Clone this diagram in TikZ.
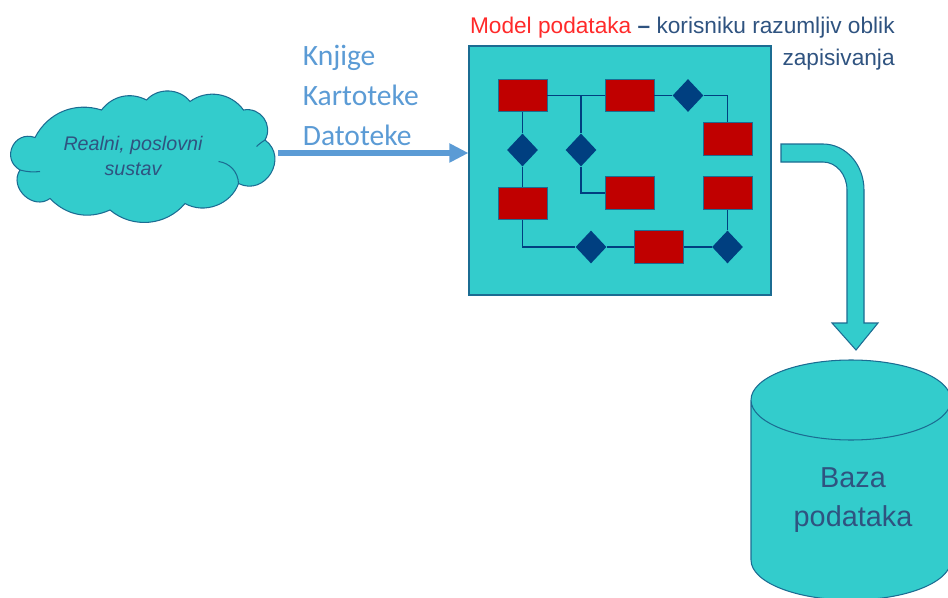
\documentclass[tikz,border=0pt]{standalone}
\usepackage{fontspec}
\setmainfont{Liberation Sans}
\newfontfamily\labelfont{Carlito}
\usetikzlibrary{shapes.geometric}
\usetikzlibrary{arrows.meta}

\definecolor{tealfill}{HTML}{33CCCC}
\definecolor{outline}{HTML}{1B6C92}
\definecolor{boxred}{HTML}{C00000}
\definecolor{navy}{HTML}{003F80}
\definecolor{linkblue}{HTML}{5B9BD5}
\definecolor{titleblue}{HTML}{2F5380}
\definecolor{titlered}{HTML}{FF2A2A}

\tikzset{
  entity/.style={draw=outline, line width=0.4pt, fill=boxred, rectangle, minimum width=0.98cm, minimum height=0.65cm, inner sep=0pt},
  relation/.style={fill=navy, diamond, minimum width=0.62cm, minimum height=0.66cm, inner sep=0pt},
  link/.style={draw=navy, line width=0.8pt},
  tealshape/.style={draw=outline, line width=0.6pt, fill=tealfill},
  source/.style={text=linkblue, font=\labelfont\fontsize{16.8}{18}\selectfont, anchor=west, inner sep=0pt}
}

\begin{document}
\begin{tikzpicture}
  \useasboundingbox (0,0) rectangle (18.96,11.94);
  \clip (0,0) rectangle (18.96,11.94);

  % cloud
  \draw[tealshape] (0.70,9.19) to[bend right=85, looseness=1.6] (0.40,8.54)
    to[bend right=80, looseness=1.3] (1.00,7.97)
    to[bend right=35] (2.20,7.74)
    to[bend right=45] (3.70,7.87)
    to[bend right=50] (4.77,8.27)
    to[bend right=85, looseness=1.5] (5.30,9.14)
    to[bend right=65, looseness=1.2] (4.87,9.74)
    to[bend right=45] (3.80,9.91)
    to[bend right=50] (2.93,9.94)
    to[bend right=40] (2.03,9.74)
    to[bend right=40] cycle;
  \draw[outline, line width=0.6pt] (0.80,8.51) to[bend left=10] (0.40,8.54);
  \draw[outline, line width=0.6pt] (4.37,8.71) to[bend left=40] (4.77,8.27);
  \draw[outline, line width=0.6pt] (5.13,9.01) to[bend left=5] (5.30,9.14);
  \node[align=center, text=titleblue, font=\itshape\fontsize{11.2}{14.7}\selectfont, inner sep=0pt] (cloudtext) at (2.66,8.82) {Realni, poslovni\\sustav};

  \node[source] (knjige) at (6.05,10.79) {Knjige};
  \node[source] (kartoteke) at (6.05,10.03) {Kartoteke};
  \node[source] (datoteke) at (6.05,9.24) {Datoteke};

  \node[tealshape, rectangle, minimum width=6.04cm, minimum height=4.98cm, inner sep=0pt] (panel) at (12.40,8.53) {};

  \coordinate (arrowstart) at (5.56,8.88);
  \draw[linkblue, line width=1.2mm, -{Triangle[length=3.8mm, width=3.6mm]}] (arrowstart) -- (panel.west |- arrowstart);

  \node[align=right, anchor=north east, inner sep=0pt, text=titleblue, font=\fontsize{12.9}{18}\selectfont] (title) at (17.9,11.60) {\textcolor{titlered}{Model podataka} \textbf{--} korisniku razumljiv oblik\\zapisivanja};

  \node[entity] (order) at (10.45,10.03) {};
  \node[entity] (customer) at (12.59,10.03) {};
  \node[entity] (invoice) at (14.55,9.16) {};
  \node[entity] (product) at (12.59,8.08) {};
  \node[entity] (supplier) at (14.55,8.08) {};
  \node[entity] (payment) at (10.45,7.87) {};
  \node[entity] (delivery) at (13.18,7.00) {};

  \node[relation] (rel1) at (10.45,8.94) {};
  \node[relation] (rel2) at (11.62,8.94) {};
  \node[relation] (rel3) at (13.76,10.03) {};
  \node[relation] (rel4) at (11.82,7.00) {};
  \node[relation] (rel5) at (14.55,7.00) {};

  \draw[link] (order) -- (customer);
  \draw[link] (rel2) -- (rel2 |- order);
  \draw[link] (rel2) |- (product);
  \draw[link] (customer) -- (rel3);
  \draw[link] (rel3) -| (invoice);
  \draw[link] (order) -- (rel1);
  \draw[link] (rel1) -- (payment);
  \draw[link] (payment) |- (rel4);
  \draw[link] (rel4) -- (delivery);
  \draw[link] (delivery) -- (rel5);
  \draw[link] (rel5) -- (supplier);

  % bent arrow
  \draw[tealshape] (15.62,9.06) -- (16.46,9.06) arc[start angle=90, end angle=0, x radius=0.82, y radius=0.92] -- (17.28,5.48) -- (17.56,5.48) -- (17.12,4.94) -- (16.64,5.48) -- (16.94,5.48) -- (16.94,8.14) arc[start angle=0, end angle=90, x radius=0.48, y radius=0.56] -- (15.62,8.70) -- cycle;

  % database
  \draw[tealshape] (15.02,3.94) -- (15.02,0.74) arc[start angle=180, end angle=360, x radius=2, y radius=0.8] -- (19.02,3.94) arc[start angle=0, end angle=180, x radius=2, y radius=0.8] arc[start angle=180, end angle=360, x radius=2, y radius=0.8];
  \node[align=center, text=titleblue, font=\fontsize{16.4}{22}\selectfont, inner sep=0pt] (baza) at (17.06,1.94) {Baza\\podataka};
\end{tikzpicture}
\end{document}
